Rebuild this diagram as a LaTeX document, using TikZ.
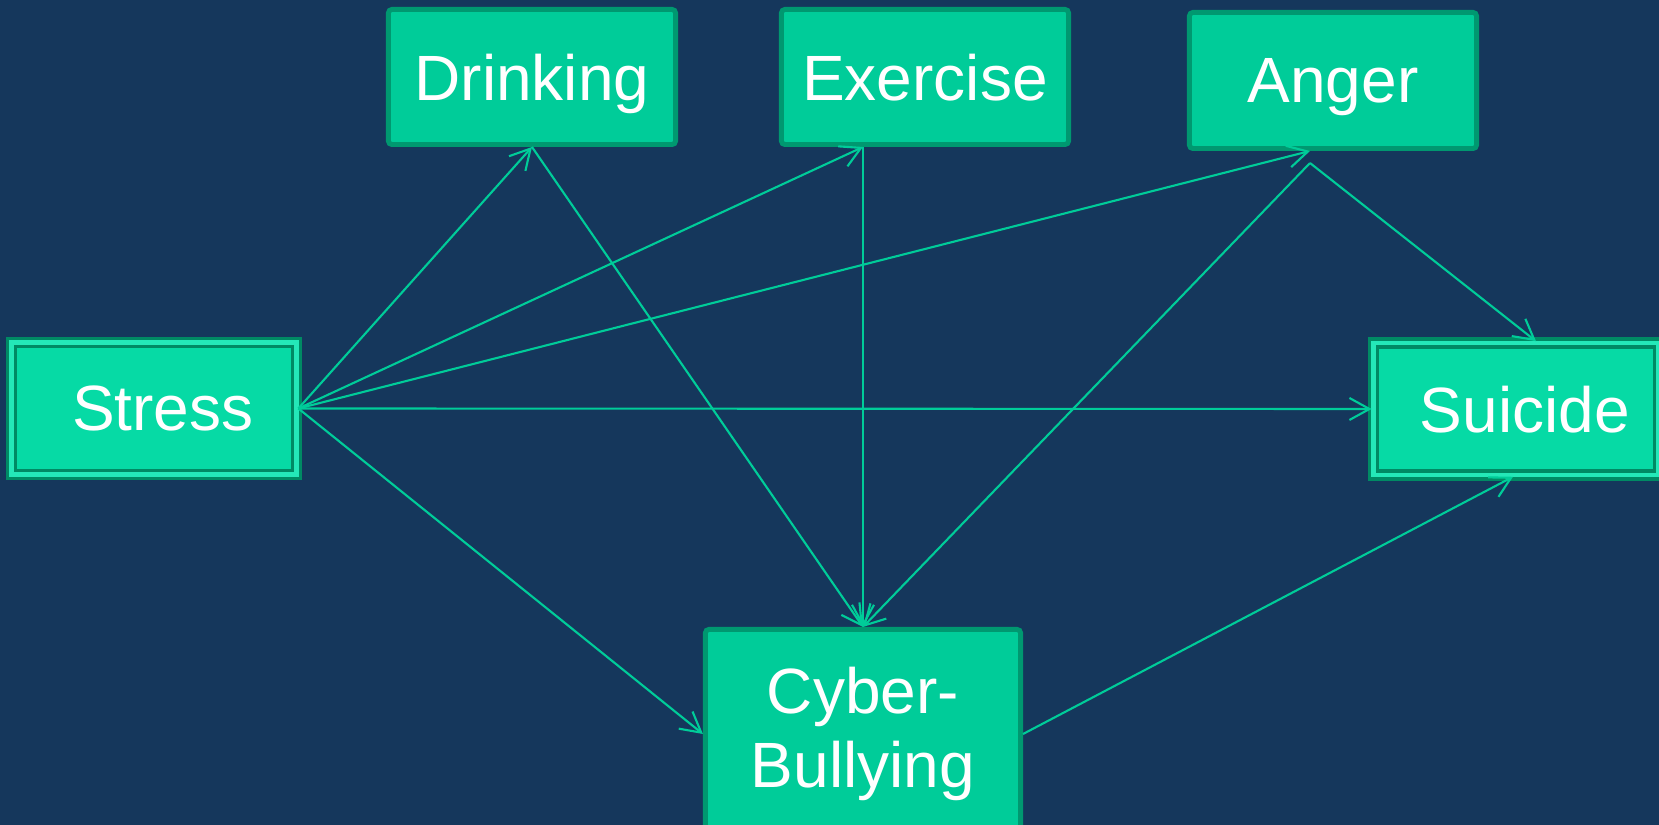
\documentclass[tikz,border=0pt]{standalone}
\usepackage{fontspec}
\setmainfont{Liberation Sans}
\usetikzlibrary{arrows.meta}
\definecolor{navy}{RGB}{21,55,92}
\definecolor{boxgreen}{RGB}{0,204,153}
\definecolor{boxedge}{RGB}{0,152,112}
\definecolor{bevelfill}{RGB}{6,218,165}
\definecolor{beveldark}{RGB}{0,138,100}
\definecolor{bevellight}{RGB}{36,232,184}

\begin{document}
\begin{tikzpicture}[x=0.01cm, y=-0.01cm,
	every node/.style={font=\fontsize{18.2}{21.3}\selectfont, text=white, inner sep=0pt, align=center},
	box/.style={fill=boxgreen, draw=boxedge, line width=1.4pt, rounded corners=1pt},
	factor/.style={box, minimum width=2.87cm, minimum height=1.35cm, text depth=0pt},
	outcome/.style={fill=bevelfill, draw=beveldark, double=bevellight, line width=1pt, double distance=1.2pt, minimum width=2.85cm, minimum height=1.32cm, text depth=0pt},
	link/.style={draw=boxgreen, line width=0.6pt, -{Straight Barb[length=0.2cm, width=0.22cm]}}]
	\useasboundingbox (0,0) rectangle (1659,825);
	\fill[navy] (0,0) rectangle (1659,825);
	\clip (0,0) rectangle (1659,825);
	\node[outcome] (stress) at (154,408.5) {\ Stress};
	\node[outcome] (suicide) at (1516,409) {\ Suicide};
	\node[factor] (drinking) at (532,77) {Drinking};
	\node[factor] (exercise) at (925,77) {Exercise};
	\node[factor, minimum height=1.36cm] (anger) at (1333,80.5) {Anger};
	\node[box, minimum width=3.15cm, minimum height=2.09cm] (cyber) at (863,734) {Cyber-\\Bullying};
	\coordinate (exin) at (cyber.north |- exercise.south);
	\coordinate (angin) at ([xshift=-0.23cm]anger.south);
	\coordinate (angout) at ([yshift=-0.12cm]angin);
	\draw[link] (stress.east) -- (drinking.south);
	\draw[link] (stress.east) -- (exin);
	\draw[link] (stress.east) -- (angin);
	\draw[link] (stress.east) -- (suicide.west);
	\draw[link] (stress.east) -- (cyber.west);
	\draw[link] (drinking.south) -- (cyber.north);
	\draw[link] (exin) -- (cyber.north);
	\draw[link] (angout) -- (cyber.north);
	\draw[link] (angout) -- ([xshift=0.2cm]suicide.north);
	\draw[link] (cyber.east) -- ([xshift=-0.03cm]suicide.south);
\end{tikzpicture}
\end{document}
